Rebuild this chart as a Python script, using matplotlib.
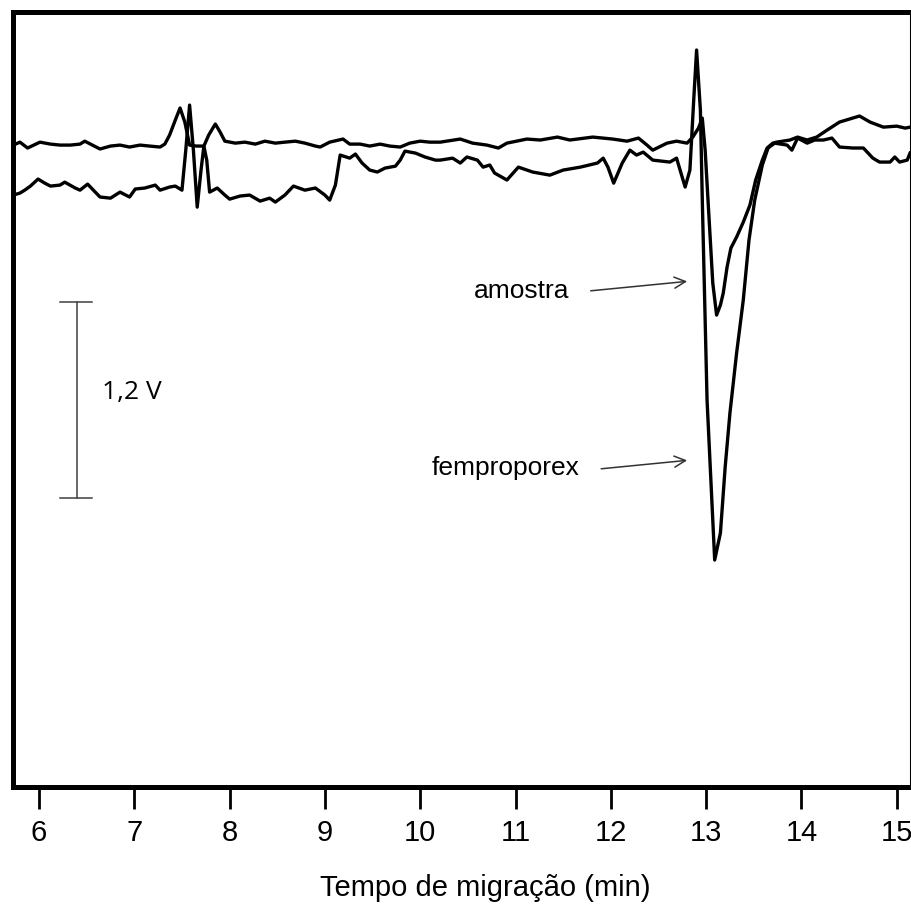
import matplotlib
matplotlib.use("Agg")
import matplotlib.pyplot as plt

# Eletroferogramas: tempo (min) e sinal (V)
t_amostra = [5.73, 5.80, 5.88, 6.01, 6.12, 6.22, 6.33, 6.43, 6.48, 6.56, 6.64, 6.75, 6.85, 6.95,
             7.06, 7.16, 7.27, 7.32, 7.37, 7.43, 7.48, 7.53, 7.58, 7.65, 7.73, 7.78, 7.85, 7.90,
             7.95, 8.06, 8.16, 8.27, 8.37, 8.48, 8.58, 8.69, 8.79, 8.90, 8.95, 9.05, 9.19, 9.26,
             9.37, 9.47, 9.58, 9.68, 9.79, 9.89, 10.00, 10.10, 10.21, 10.42, 10.55, 10.70, 10.82,
             10.91, 11.12, 11.26, 11.44, 11.57, 11.81, 12.02, 12.17, 12.29, 12.38, 12.44, 12.59,
             12.69, 12.80, 12.86, 12.92, 12.96, 12.99, 13.02, 13.07, 13.11, 13.15, 13.18, 13.22,
             13.26, 13.32, 13.39, 13.46, 13.52, 13.59, 13.64, 13.70, 13.74, 13.88, 13.96, 14.06,
             14.16, 14.27, 14.40, 14.61, 14.72, 14.86, 15.00, 15.09, 15.14]
s_amostra = [0.000, 0.018, -0.018, 0.018, 0.006, 0.000, 0.000, 0.006, 0.024, 0.000, -0.024, -0.006,
             0.000, -0.012, 0.000, -0.006, -0.012, 0.006, 0.061, 0.153, 0.227, 0.141, 0.000, -0.006,
             -0.006, 0.061, 0.129, 0.080, 0.024, 0.012, 0.018, 0.006, 0.024, 0.012, 0.018, 0.024,
             0.012, -0.006, -0.012, 0.018, 0.037, 0.006, 0.006, -0.006, 0.006, -0.006, -0.012, 0.012,
             0.024, 0.018, 0.018, 0.037, 0.012, 0.000, -0.018, 0.012, 0.037, 0.031, 0.049, 0.031,
             0.049, 0.037, 0.024, 0.043, 0.000, -0.031, 0.012, 0.024, 0.012, 0.049, 0.104, 0.165,
             -0.031, -0.337, -0.845, -1.041, -0.980, -0.906, -0.747, -0.631, -0.563, -0.472, -0.367,
             -0.214, -0.092, -0.018, 0.012, 0.018, 0.031, 0.049, 0.031, 0.049, 0.092, 0.141, 0.178,
             0.141, 0.110, 0.116, 0.104, 0.110]

t_fempro = [5.73, 5.80, 5.85, 5.91, 5.99, 6.06, 6.12, 6.22, 6.27, 6.38, 6.43, 6.51, 6.59, 6.64,
            6.75, 6.85, 6.95, 7.01, 7.11, 7.22, 7.27, 7.37, 7.43, 7.50, 7.54, 7.58, 7.62, 7.66,
            7.70, 7.73, 7.76, 7.79, 7.87, 7.95, 8.00, 8.11, 8.21, 8.32, 8.42, 8.48, 8.58, 8.67,
            8.79, 8.90, 9.00, 9.05, 9.11, 9.16, 9.26, 9.32, 9.39, 9.47, 9.55, 9.63, 9.74, 9.79,
            9.84, 9.95, 10.05, 10.16, 10.21, 10.34, 10.42, 10.49, 10.60, 10.66, 10.73, 10.78,
            10.91, 11.03, 11.18, 11.36, 11.50, 11.68, 11.86, 11.92, 11.97, 12.03, 12.12, 12.20,
            12.27, 12.34, 12.44, 12.62, 12.69, 12.78, 12.83, 12.87, 12.90, 12.94, 12.96, 13.01,
            13.06, 13.09, 13.15, 13.20, 13.25, 13.32, 13.39, 13.45, 13.51, 13.59, 13.65, 13.72,
            13.85, 13.90, 13.96, 14.06, 14.14, 14.23, 14.32, 14.40, 14.54, 14.65, 14.75, 14.82,
            14.93, 14.98, 15.03, 15.11, 15.14]
s_fempro = [-0.306, -0.294, -0.276, -0.251, -0.208, -0.233, -0.251, -0.245, -0.227, -0.263, -0.276,
            -0.239, -0.288, -0.318, -0.325, -0.288, -0.318, -0.269, -0.263, -0.245, -0.276, -0.257,
            -0.251, -0.276, -0.031, 0.245, -0.031, -0.380, -0.153, -0.006, -0.092, -0.288, -0.263,
            -0.306, -0.331, -0.312, -0.306, -0.343, -0.325, -0.349, -0.306, -0.251, -0.276, -0.263,
            -0.306, -0.337, -0.245, -0.061, -0.080, -0.055, -0.110, -0.153, -0.165, -0.141, -0.129,
            -0.092, -0.037, -0.049, -0.073, -0.092, -0.092, -0.080, -0.110, -0.073, -0.092, -0.135,
            -0.122, -0.171, -0.214, -0.135, -0.165, -0.184, -0.153, -0.135, -0.110, -0.080, -0.135,
            -0.233, -0.110, -0.031, -0.061, -0.043, -0.092, -0.104, -0.080, -0.257, -0.153, 0.276,
            0.582, 0.214, -0.337, -1.562, -2.174, -2.541, -2.376, -1.972, -1.641, -1.274, -0.949,
            -0.582, -0.337, -0.122, -0.018, 0.012, 0.000, -0.031, 0.043, 0.012, 0.031, 0.031, 0.043,
            -0.012, -0.018, -0.018, -0.080, -0.104, -0.104, -0.073, -0.104, -0.092, -0.049]

x_ticks = [6, 7, 8, 9, 10, 11, 12, 13, 14, 15]
escala_v = 1.2

fig = plt.figure(figsize=(9.12, 9.09), dpi=100)
ax = fig.add_axes([13 / 912, 122 / 909, 898 / 912, 775 / 909])

ax.plot(t_amostra, s_amostra, color='black', lw=2.4, solid_joinstyle='round')
ax.plot(t_fempro, s_fempro, color='black', lw=2.4, solid_joinstyle='round')

ax.set_xlim(5.727, 15.15)
ax.set_ylim(-3.931, 0.815)

# barra de escala
x_bar, y_top = 6.40, -0.961
ax.plot([x_bar, x_bar], [y_top, y_top - escala_v], color='#404040', lw=1.1)
ax.plot([6.22, 6.56], [y_top, y_top], color='#404040', lw=1.1)
ax.plot([6.22, 6.56], [y_top - escala_v, y_top - escala_v], color='#404040', lw=1.1)
ax.text(6.66, y_top - escala_v * 0.46, '1,2 V', fontsize=19, family='Open Sans',
        va='center', ha='left')

# rótulos com setas
ax.annotate('', xy=(12.83, -0.833), xytext=(11.76, -0.894),
            arrowprops=dict(arrowstyle='->', color='#333333', lw=1.1, mutation_scale=20))
ax.text(11.06, -0.894, 'amostra', fontsize=19, family='Liberation Sans', ha='center', va='center')
ax.annotate('', xy=(12.83, -1.929), xytext=(11.87, -1.984),
            arrowprops=dict(arrowstyle='->', color='#333333', lw=1.1, mutation_scale=20))
ax.text(10.90, -1.978, 'femproporex', fontsize=19, family='Liberation Sans', ha='center', va='center')

ax.set_xticks(x_ticks)
ax.set_xticklabels([str(v) for v in x_ticks], fontsize=21, family='Liberation Sans')
ax.tick_params(axis='x', direction='out', length=16, width=2, pad=7)
ax.set_yticks([])
for side in ['left', 'top', 'bottom']:
    ax.spines[side].set_linewidth(3.6)
ax.spines['right'].set_linewidth(2.2)

fig.text(485 / 912, 1 - 888 / 909, 'Tempo de migração (min)', fontsize=21,
         family='Liberation Sans', ha='center', va='center')

fig.savefig('out.png', dpi=100, facecolor='white')
